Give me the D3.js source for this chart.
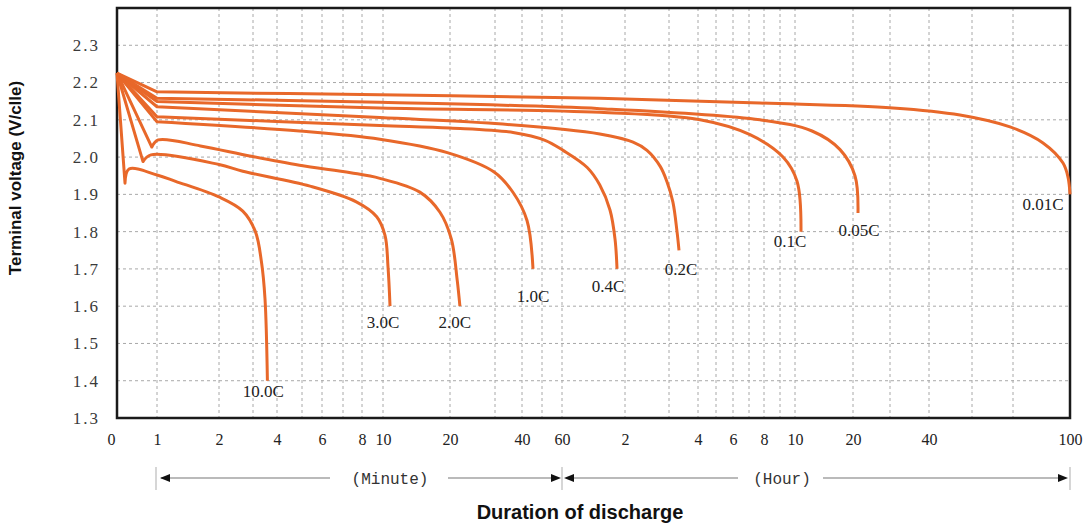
<!DOCTYPE html>
<html><head><meta charset="utf-8">
<script src="https://cdn.jsdelivr.net/npm/d3@7/dist/d3.min.js"></script>
<style>body{margin:0;background:#fff}svg{display:block}</style>
</head><body><svg id="c" width="1092" height="524"></svg>
<script>
// ---- data (time in minutes, voltage in V/cell) ----
const categories = ["10.0C","3.0C","2.0C","1.0C","0.4C","0.2C","0.1C","0.05C","0.01C"];
const c10  = [[0,2.225],[0.2,1.93],[0.3,1.968],[1,1.952],[1.3,1.935],[2,1.893],[2.7,1.855],[3.1,1.8],[3.35,1.72],[3.5,1.62],[3.6,1.4]];
const c3   = [[0,2.225],[0.65,1.988],[0.85,2.006],[2,1.98],[2.7,1.962],[5.4,1.922],[7.7,1.88],[9.4,1.84],[10.3,1.79],[10.75,1.705],[11.05,1.6]];
const c2   = [[0,2.225],[0.87,2.027],[1.02,2.046],[1.7,2.03],[2.9,2.003],[4.9,1.978],[7.4,1.958],[9.7,1.943],[15.5,1.906],[18.5,1.852],[20.3,1.78],[21.6,1.67],[22.2,1.6]];
const c1   = [[0,2.225],[1,2.095],[4.9,2.07],[9.7,2.048],[19.6,2.012],[29.8,1.96],[36.7,1.905],[42.5,1.83],[45.5,1.7]];
const c04  = [[0,2.225],[1,2.108],[9.7,2.085],[20,2.078],[36.7,2.066],[51.5,2.045],[61,2.018],[84,1.972],[96,1.925],[105.7,1.858],[110.5,1.78],[112.4,1.7]];
const c02  = [[0,2.225],[1,2.135],[9.7,2.106],[30,2.09],[96,2.062],[131,2.04],[150,2.018],[168,1.975],[177,1.935],[188,1.88],[196.6,1.8],[200.7,1.75]];
const c01  = [[0,2.225],[1,2.149],[9.7,2.132],[96,2.12],[247,2.1],[424,2.06],[552,2.0],[621,1.935],[662,1.8]];
const c005 = [[0,2.225],[1,2.158],[9.7,2.147],[96,2.13],[464,2.1],[776,2.07],[1066,2.02],[1232,1.95],[1281,1.85]];
const c001 = [[0,2.225],[1,2.175],[9.7,2.167],[96,2.158],[464,2.145],[1846,2.132],[3265,2.113],[4713,2.081],[5432,2.038],[5853,1.984],[5960,1.945],[6000,1.9]];
const series = [c10,c3,c2,c1,c04,c02,c01,c005,c001];

const yTicks = [1.3,1.4,1.5,1.6,1.7,1.8,1.9,2.0,2.1,2.2,2.3];
const xTickValues = [0,1,2,4,6,8,10,20,40,60,120,240,360,480,600,1200,2400,6000];
const xTickLabels = ["0","1","2","4","6","8","10","20","40","60","2","4","6","8","10","20","40","100"];
const gridMinutes = [1,2,3,4,5,6,7,8,10,20,30,40,50,60,120,180,240,300,360,420,480,540,600,1200,1800,2400,3600,4800];

// ---- layout of the (non-uniform) time axis: break points and their pixel offsets ----
const breakMinutes = [0,1,2,3,4,5,6,7,8,10,20,30,40,50,60,120,180,240,300,360,420,480,540,600,1200,1800,2400,3600,4800,6000];
const breakOffsets = [0,40,102,136,160,185,205,226,245,266,333,378,405,425,445,508,552,581,599,616,632,647,663,678,736,773,812,855,896,953];
const labelOffsets = [[-4,16],[-7,22],[-5,22],[0,33],[-9,23],[2,25],[-11,15],[1,23],[-27,16]];

const L = 117, R = 1070, T = 8, B = 418;
const svg = d3.select("#c");
const x = d3.scaleLinear().domain(breakMinutes).range(breakOffsets.map(o => L + o));
const y = d3.scaleLinear().domain([1.3, 2.4]).range([B, T]);

// grid
const g = svg.append("g").attr("stroke","#a8a8a8").attr("stroke-width",1).attr("stroke-dasharray","3,3");
g.selectAll("line.h").data(yTicks.filter(v => v > 1.31)).join("line")
  .attr("x1",L).attr("x2",R).attr("y1",d=>y(d)).attr("y2",d=>y(d));
g.selectAll("line.v").data(gridMinutes).join("line")
  .attr("y1",T).attr("y2",B).attr("x1",d=>x(d)).attr("x2",d=>x(d));

// border
svg.append("rect").attr("x",L).attr("y",T).attr("width",R-L).attr("height",B-T)
  .attr("fill","none").attr("stroke","#1a1a1a").attr("stroke-width",2.5);

// curves: straight initial drop, then a smooth discharge curve
const line = d3.line().x(d=>x(d[0])).y(d=>y(d[1])).curve(d3.curveCatmullRom.alpha(0.5));
svg.append("g").selectAll("path").data(series).join("path")
  .attr("d", s => `M${x(s[0][0])},${y(s[0][1])}L` + line(s.slice(1)).slice(1))
  .attr("fill","none").attr("stroke","#e8682a").attr("stroke-width",3)
  .attr("stroke-linejoin","round");

// curve labels
svg.append("g").selectAll("text").data(series).join("text")
  .attr("x",(s,i)=>x(s[s.length-1][0]) + labelOffsets[i][0])
  .attr("y",(s,i)=>y(s[s.length-1][1]) + labelOffsets[i][1])
  .attr("text-anchor","middle").attr("font-family","Liberation Serif").attr("font-size",17)
  .attr("fill","#222").text((s,i)=>categories[i]);

// y axis
const ya = svg.append("g").attr("transform",`translate(${L},0)`)
  .call(d3.axisLeft(y).tickValues(yTicks).tickFormat(d3.format(".1f")).tickSize(0).tickPadding(17));
ya.select(".domain").remove();
ya.selectAll("text").attr("font-family","Liberation Serif").attr("font-size",17).attr("fill","#3a3a3a")
  .attr("letter-spacing","2px");

// x axis
const xa = svg.append("g").attr("transform",`translate(0,${B})`)
  .call(d3.axisBottom(x).tickValues(xTickValues).tickFormat((d,i)=>xTickLabels[i]).tickSize(0).tickPadding(16));
xa.select(".domain").remove();
xa.selectAll("text").attr("font-family","Liberation Serif").attr("font-size",16).attr("fill","#222")
  .attr("dx",(d,i)=> i===0 ? -6 : 0);

// axis titles
svg.append("text").attr("transform","translate(21,178) rotate(-90)").attr("text-anchor","middle")
  .attr("font-family","Liberation Sans").attr("font-weight","bold").attr("font-size",17).attr("fill","#111")
  .text("Terminal voltage (V/clle)");
svg.append("text").attr("x",580).attr("y",519).attr("text-anchor","middle")
  .attr("font-family","Liberation Sans").attr("font-weight","bold").attr("font-size",20).attr("fill","#111")
  .text("Duration of discharge");

// minute / hour range arrows
const ay = 478;
const an = svg.append("g");
[x(1)-1, x(60), x(6000)].forEach(px => an.append("line").attr("x1",px).attr("x2",px).attr("y1",467).attr("y2",490).attr("stroke","#bbb").attr("stroke-width",1.2));
const seg = (a,b) => an.append("line").attr("x1",a).attr("x2",b).attr("y1",ay).attr("y2",ay).attr("stroke","#777").attr("stroke-width",1.2);
const head = (tip, dir) => an.append("path").attr("d",`M${tip},${ay}L${tip-dir*10},${ay-4}L${tip-dir*10},${ay+4}Z`).attr("fill","#111");
seg(x(1)+4, 330); head(x(1)+3, -1);
seg(448, x(60)-6); head(x(60)-1, 1);
seg(x(60)+6, 738); head(x(60)+2, -1);
seg(823, x(6000)-8); head(x(6000)-2, 1);
an.append("text").attr("x",390).attr("y",484).attr("text-anchor","middle").attr("font-family","Liberation Mono").attr("font-size",16).attr("fill","#333").text("(Minute)");
an.append("text").attr("x",782).attr("y",484).attr("text-anchor","middle").attr("font-family","Liberation Mono").attr("font-size",16).attr("fill","#333").text("(Hour)");
</script></body></html>
